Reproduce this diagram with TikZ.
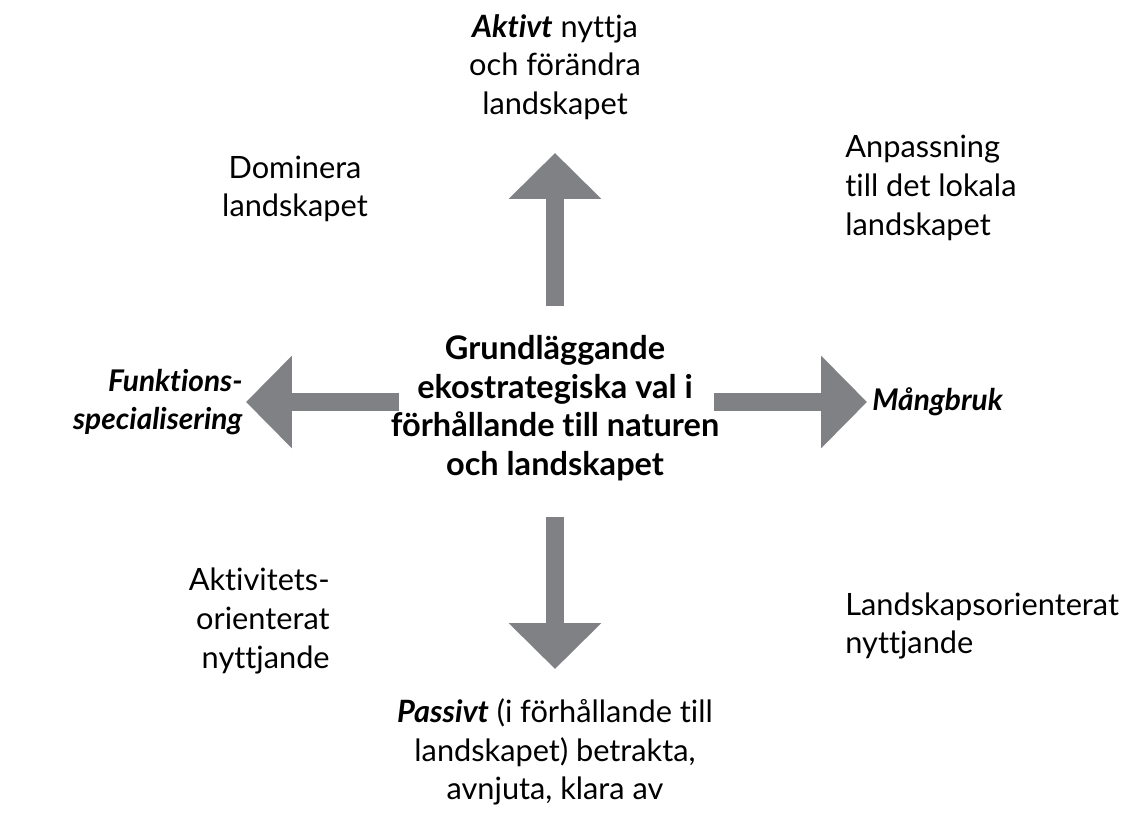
\documentclass[tikz,border=0pt]{standalone}
\usepackage{fontspec}
\setmainfont{Lato}[Ligatures=NoCommon]
\usetikzlibrary{arrows.meta,positioning,calc}
\usepackage{xcolor}
\definecolor{arrowgrey}{RGB}{128,129,132}
\newcommand{\emphit}[1]{\textbf{\textit{#1}}}
\tikzset{
	txt/.style={
		inner sep=0pt,
		font=\fontsize{17.5}{22}\selectfont,
	},
	core/.style={
		txt,
		align=center,
		font=\fontsize{18.5}{22}\selectfont\bfseries,
	},
	side/.style={
		txt,
		font=\fontsize{17}{22}\selectfont,
	},
	bigarrow/.style={
		draw=arrowgrey,
		line width=0.36cm,
		-{Triangle[length=0.92cm,width=1.8cm]},
	},
}

\begin{document}
\begin{tikzpicture}[x=0.02cm,y=-0.02cm]

\useasboundingbox (0,0) rectangle (1124,814);

\node[core] (core) at (555,408) {Grundläggande\\ekostrategiska val i\\förhållande till naturen\\och landskapet};

\node[txt,align=center] (aktiv) at (555,67) {\emphit{Aktivt} nyttja\\och förändra\\landskapet};
\node[txt,align=center] (passiv) at (555,752) {\emphit{Passivt} (i förhållande till\\landskapet) betrakta,\\avnjuta, klara av};
\node[side,align=right,anchor=east] (funk) at (243,402) {\emphit{Funktions-}\\\emphit{specialisering}};
\node[side,anchor=west] (mang) at (872,402) {\emphit{Mångbruk}};

\node[txt,align=center] (dom) at (295,189) {Dominera\\landskapet};
\node[txt,align=left,anchor=west] (anp) at (845,188) {Anpassning\\till det lokala\\landskapet};
\node[txt,align=right,anchor=east] (akt) at (330,621) {Aktivitets-\\orienterat\\nyttjande};
\node[txt,align=left,anchor=west] (land) at (845,626) {Landskapsorienterat\\nyttjande};

\draw[bigarrow,shorten <=2.04cm,shorten >=1.72cm]
  (core.center)
  --
  (aktiv.center);

\draw[bigarrow,shorten <=2.18cm,shorten >=1.66cm]
  (core.center)
  --
  (passiv.center);

\draw[bigarrow,shorten <=3.12cm,shorten >=0.06cm]
  (core.center |- funk.east)
  --
  (funk.east);

\draw[bigarrow,shorten <=3.18cm,shorten >=0.1cm]
  (core.center |- mang.west)
  --
  (mang.west);

\end{tikzpicture}
\end{document}
